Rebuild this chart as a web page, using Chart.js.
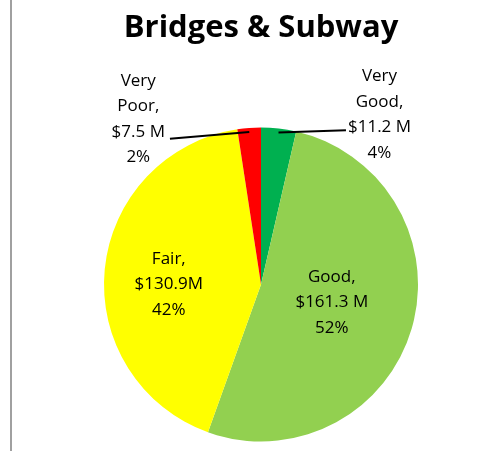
<!DOCTYPE html>
<html><head><meta charset="utf-8">
<script src="https://cdn.jsdelivr.net/npm/chart.js@4/dist/chart.umd.min.js"></script>
<style>
html,body{margin:0;padding:0;background:#fff;}
#wrap{position:relative;width:484px;height:451px;}
canvas{display:block;}
</style></head><body>
<div id="wrap"><canvas id="c" width="484" height="451"></canvas></div>
<script>
const categories = ['Very Good', 'Good', 'Fair', 'Very Poor'];
const labelNames = [['Very', 'Good,'], ['Good,'], ['Fair,'], ['Very', 'Poor,']];
const valueTexts = ['$11.2 M', '$161.3 M', '$130.9M', '$7.5 M'];
const percentTexts = ['4%', '52%', '42%', '2%'];
const values = [11.2, 161.3, 130.9, 7.5];
const colors = ['#00B050', '#92D050', '#FFFF00', '#FF0000'];

const placement = [
  {mode: 'outside', dx: 101, dy: -16, side: 'right', ly: 3},
  {mode: 'inside', r: 0.47, dx: 0, dy: -3},
  {mode: 'inside', r: 0.59, dx: 0, dy: 9},
  {mode: 'outside', dx: -111, dy: -11, side: 'left', ly: 7}
];

const frameLine = {
  id: 'frameLine',
  beforeDraw(chart) {
    const ctx = chart.ctx;
    ctx.save();
    ctx.fillStyle = '#A0A0A0';
    ctx.fillRect(10, 0, 2, chart.height);
    ctx.restore();
  }
};

const sliceLabels = {
  id: 'sliceLabels',
  afterDatasetsDraw(chart) {
    const ctx = chart.ctx;
    const meta = chart.getDatasetMeta(0);
    const lh = 25.5;
    ctx.save();
    ctx.font = '17px "Open Sans"';
    ctx.fillStyle = '#000';
    ctx.textAlign = 'center';
    ctx.textBaseline = 'middle';
    meta.data.forEach((arc, i) => {
      const p = arc.getProps(['x', 'y', 'startAngle', 'endAngle', 'outerRadius'], true);
      const mid = (p.startAngle + p.endAngle) / 2;
      const cfg = placement[i];
      const lines = [...labelNames[i], valueTexts[i], percentTexts[i]];
      const ax = p.x + Math.cos(mid) * (p.outerRadius - 2);
      const ay = p.y + Math.sin(mid) * (p.outerRadius - 2);
      let cx, cy;
      if (cfg.mode === 'inside') {
        cx = p.x + Math.cos(mid) * p.outerRadius * cfg.r + cfg.dx;
        cy = p.y + Math.sin(mid) * p.outerRadius * cfg.r + cfg.dy;
      } else {
        cx = ax + cfg.dx;
        cy = ay + cfg.dy;
      }
      const top = cy - (lines.length - 1) * lh / 2;
      lines.forEach((t, k) => ctx.fillText(t, cx, top + k * lh));
      if (cfg.mode === 'outside') {
        const k = labelNames[i].length;
        const w = ctx.measureText(valueTexts[i]).width;
        const ly = top + k * lh + cfg.ly;
        const lx = cfg.side === 'right' ? cx - w / 2 - 2 : cx + w / 2 + 5;
        ctx.beginPath();
        ctx.moveTo(ax, ay + 2);
        ctx.lineTo(lx, ly);
        ctx.lineWidth = 2;
        ctx.strokeStyle = '#000';
        ctx.stroke();
      }
    });
    ctx.restore();
  }
};

new Chart(document.getElementById('c'), {
  type: 'pie',
  data: {
    labels: categories,
    datasets: [{
      data: values,
      backgroundColor: colors,
      borderWidth: 0
    }]
  },
  options: {
    responsive: false,
    animation: false,
    layout: {padding: {left: 104, right: 66, top: 0, bottom: 9}},
    plugins: {
      legend: {display: false},
      tooltip: {enabled: false},
      title: {
        display: true,
        text: 'Bridges & Subway',
        color: '#000',
        font: {family: 'Open Sans', size: 31, weight: 'bold', lineHeight: 1.2},
        padding: {top: 10, bottom: 79.8}
      }
    }
  },
  plugins: [frameLine, sliceLabels]
});
</script>
</body></html>
